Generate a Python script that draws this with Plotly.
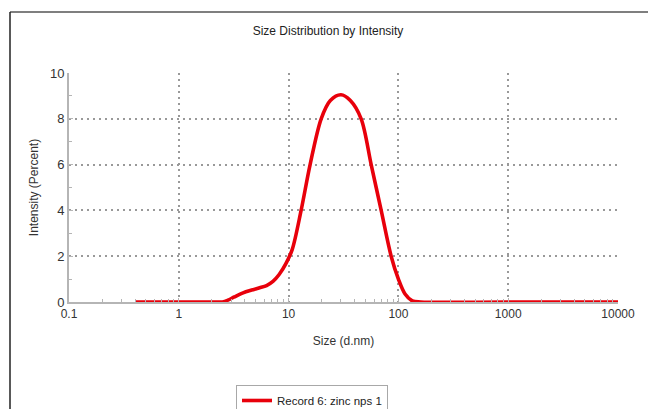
import plotly.graph_objects as go

# Size (d.nm) and intensity (%)
size_nm = [0.4, 1.0, 2.0, 2.5, 2.8, 3.2, 3.85, 4.6, 5.45, 6.3, 7.2, 8.2, 9.5,
           10.8, 13.0, 15.7, 19.8, 24.0, 30.0, 36.5, 45.8, 56.5, 69.7, 85.9,
           100.0, 115.0, 134.0, 160.0, 1000.0, 10000.0]
intensity = [0.0, 0.0, 0.0, 0.0, 0.08, 0.22, 0.40, 0.52, 0.62, 0.72, 0.90, 1.20, 1.70,
             2.30, 4.0, 6.0, 8.0, 8.8, 9.05, 8.8, 8.0, 6.0, 4.0, 2.0,
             1.0, 0.35, 0.05, 0.0, 0.0, 0.0]

x_ticks = [0.1, 1, 10, 100, 1000, 10000]
x_tick_text = ["0.1", "1", "10", "100", "1000", "10000"]
y_ticks = [0, 2, 4, 6, 8, 10]

FONT = "Liberation Sans, Arial, sans-serif"
W, H = 648, 409
L, R, T, B = 69, 30, 73, 107
pw, ph = W - L - R, H - T - B


def px(xp):
    return (xp - L) / pw


def py(yp):
    return (H - B - yp) / ph


fig = go.Figure()
fig.add_trace(go.Scatter(
    x=size_nm, y=intensity, mode="lines",
    line=dict(color="#e8000b", width=3.6, shape="spline", smoothing=0.9),
    name="Record 6: zinc nps 1", showlegend=True,
))

fig.update_layout(
    width=W, height=H,
    margin=dict(l=L, r=R, t=T, b=B, autoexpand=False),
    paper_bgcolor="white", plot_bgcolor="white",
    font=dict(family=FONT, size=12, color="#333333"),
    title=dict(text="Size Distribution by Intensity", x=328 / W, xanchor="center",
               y=1 - 31 / H, yanchor="middle", font=dict(size=12, color="#222222")),
    xaxis=dict(
        type="log", range=[-1, 4], tickvals=x_ticks, ticktext=x_tick_text,
        showline=True, linecolor="#b5b5b5", linewidth=2,
        showgrid=True, gridcolor="#999999", gridwidth=1.6, griddash="2px,4px",
        ticks="inside", ticklen=4, tickcolor="#b5b5b5",
        minor=dict(ticks="inside", ticklen=3, tickcolor="#b5b5b5", showgrid=False,
                   dtick="D1"),
        zeroline=False, tickfont=dict(size=12, color="#333333"),
        title=dict(text="Size (d.nm)", standoff=16, font=dict(size=12, color="#333333")),
    ),
    yaxis=dict(
        range=[0, 10], tickvals=y_ticks,
        showline=True, linecolor="#b5b5b5", linewidth=2,
        showgrid=True, gridcolor="#999999", gridwidth=1.6, griddash="2px,4px",
        ticks="inside", ticklen=4, tickcolor="#b5b5b5",
        minor=dict(ticks="inside", ticklen=3, tickcolor="#b5b5b5", showgrid=False, dtick=1),
        zeroline=False, tickfont=dict(size=13, color="#333333"),
        title=dict(text="Intensity (Percent)", standoff=9, font=dict(size=12, color="#333333")),
    ),
    showlegend=True,
    legend=dict(x=px(236), y=py(385), xanchor="left", yanchor="top",
                bordercolor="#a8a8a8", borderwidth=1, bgcolor="white",
                font=dict(size=11.5, color="#222222")),
    shapes=[
        dict(type="line", xref="paper", yref="paper", x0=px(10), x1=px(W + 5),
             y0=py(12), y1=py(12), line=dict(color="#555555", width=1.5)),
        dict(type="line", xref="paper", yref="paper", x0=px(10), x1=px(10),
             y0=py(12), y1=py(H + 5), line=dict(color="#222222", width=1.5)),
    ],
)

fig.write_html("out.html", config={"displayModeBar": False},
               post_script="document.body.style.margin='0';document.body.style.overflow='hidden';")
